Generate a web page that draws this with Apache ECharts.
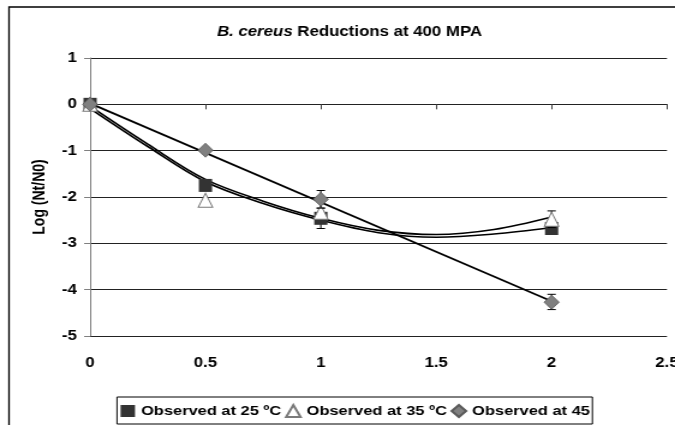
<!DOCTYPE html>
<html>
<head>
<meta charset="utf-8">
<script src="https://cdn.jsdelivr.net/npm/echarts@6/dist/echarts.min.js"></script>
<style>
  html, body { margin: 0; padding: 0; background: #fff; overflow: hidden; }
  #chart { width: 562px; height: 425px; transform: scaleX(1.2011); transform-origin: 0 0; }
</style>
</head>
<body>
<div id="chart"></div>
<script>
// Observation times (min) and log reductions for each temperature
const times = [0, 0.5, 1, 2];
const obs25 = [0, -1.75, -2.46, -2.68];
const obs35 = [0, -2.07, -2.33, -2.48];
const obs45 = [0, -0.99, -2.05, -4.27];

// Error bars: [time, lower, upper]
const err25 = [[1, -2.68, -2.24]];
const err35 = [[2, -2.66, -2.30]];
const err45 = [[1, -2.24, -1.86], [2, -4.43, -4.10]];

// Fitted trend curves
const fitTimes = [0, 0.25, 0.5, 0.75, 1, 1.25, 1.5, 1.75, 2];
const fit25 = [-0.09, -0.91, -1.67, -2.14, -2.50, -2.77, -2.87, -2.80, -2.66];
const fit35 = [-0.04, -0.86, -1.62, -2.09, -2.46, -2.72, -2.81, -2.70, -2.43];
const fit45Times = [0, 2];
const fit45 = [0.02, -4.25];

// Axis ticks
const xTicks = [0, 0.5, 1, 1.5, 2, 2.5];
const yTicks = [1, 0, -1, -2, -3, -4, -5];

const legendNames = ['Observed at 25 ºC', 'Observed at 35 ºC', 'Observed at 45'];

const FONT = "'Liberation Sans', Arial, sans-serif";
const zip = (xs, ys) => xs.map((x, i) => [x, ys[i]]);

function errorBar(params, api) {
  const x = api.value(0);
  const lo = api.coord([x, api.value(1)]);
  const hi = api.coord([x, api.value(2)]);
  const w = 3.5;
  const style = { stroke: '#000', lineWidth: 1 };
  return {
    type: 'group',
    children: [
      { type: 'line', shape: { x1: lo[0], y1: lo[1], x2: hi[0], y2: hi[1] }, style },
      { type: 'line', shape: { x1: lo[0] - w, y1: lo[1], x2: lo[0] + w, y2: lo[1] }, style },
      { type: 'line', shape: { x1: hi[0] - w, y1: hi[1], x2: hi[0] + w, y2: hi[1] }, style }
    ]
  };
}

const chart = echarts.init(document.getElementById('chart'), null, { renderer: 'canvas' });

chart.setOption({
  animation: false,
  backgroundColor: '#fff',
  textStyle: { fontFamily: FONT },
  title: {
    text: '{i|B. cereus} Reductions at 400 MPA',
    left: 291,
    top: 25,
    padding: 0,
    textAlign: 'center',
    textStyle: {
      fontFamily: FONT, fontSize: 14, fontWeight: 'bold', color: '#000',
      rich: { i: { fontFamily: FONT, fontSize: 14, fontWeight: 'bold', fontStyle: 'italic', color: '#000' } }
    }
  },
  graphic: [{
    type: 'rect',
    shape: { x: 7.5, y: 7, width: 700, height: 600 },
    style: { fill: 'none', stroke: '#000', lineWidth: 1.3 },
    silent: true
  }],
  legend: {
    data: [
      { name: legendNames[0], icon: 'rect' },
      { name: legendNames[1], icon: 'triangle' },
      { name: legendNames[2], icon: 'diamond' }
    ],
    left: 97.4,
    top: 397,
    padding: [7, 2, 6, 3],
    itemGap: 3,
    itemWidth: 12,
    itemHeight: 12,
    borderColor: '#000',
    borderWidth: 1,
    textStyle: { fontFamily: FONT, fontSize: 13.7, fontWeight: 'bold', color: '#000' }
  },
  grid: { left: 75, right: 6.7, top: 58, bottom: 89, containLabel: false, outerBoundsMode: 'none' },
  xAxis: {
    type: 'value',
    min: 0, max: 2.5, interval: 0.5,
    name: 'Time of treatment',
    nameLocation: 'middle',
    nameGap: 256,
    nameTextStyle: { fontFamily: FONT, fontSize: 14, fontWeight: 'bold', color: '#000' },
    axisLine: { onZero: true, lineStyle: { color: '#222', width: 1 } },
    axisTick: { show: true, length: 5, lineStyle: { color: '#444' } },
    axisLabel: {
      margin: 20, fontFamily: FONT, fontSize: 14, fontWeight: 'bold', color: '#000',
      formatter: v => xTicks.includes(v) ? String(v) : ''
    },
    splitLine: { show: false }
  },
  yAxis: {
    type: 'value',
    min: -5, max: 1, interval: 1,
    name: 'Log (Nt/N0)',
    nameLocation: 'middle',
    nameGap: 35,
    nameTextStyle: { fontFamily: FONT, fontSize: 14, fontWeight: 'bold', color: '#000' },
    axisLine: { show: true, onZero: false, lineStyle: { color: '#808080', width: 1 } },
    axisTick: { show: true, length: 5, lineStyle: { color: '#808080' } },
    axisLabel: {
      margin: 11, fontFamily: FONT, fontSize: 14, fontWeight: 'bold', color: '#000',
      formatter: v => yTicks.includes(v) ? String(v) : ''
    },
    splitLine: { show: true, lineStyle: { color: '#222', width: 1 } }
  },
  series: [
    {
      type: 'line', name: 'fit25', data: zip(fitTimes, fit25), smooth: 0.35,
      symbol: 'none', z: 2, lineStyle: { color: '#000', width: 1.6 }
    },
    {
      type: 'line', name: 'fit35', data: zip(fitTimes, fit35), smooth: 0.35,
      symbol: 'none', z: 2, lineStyle: { color: '#000', width: 1.6 }
    },
    {
      type: 'line', name: 'fit45', data: zip(fit45Times, fit45),
      symbol: 'none', z: 2, lineStyle: { color: '#000', width: 1.8 }
    },
    {
      type: 'custom', name: 'err25', data: err25, renderItem: errorBar,
      encode: { x: 0, y: [1, 2] }, z: 3
    },
    {
      type: 'scatter', name: legendNames[0], data: zip(times, obs25),
      symbol: 'rect', symbolSize: [11, 13], z: 4,
      itemStyle: { color: '#333333', opacity: 1 }
    },
    {
      type: 'custom', name: 'err35', data: err35, renderItem: errorBar,
      encode: { x: 0, y: [1, 2] }, z: 5
    },
    {
      type: 'scatter', name: legendNames[1], data: zip(times, obs35),
      symbol: 'triangle', symbolSize: [12, 14], z: 6,
      itemStyle: { color: '#ffffff', borderColor: '#7a7a7a', borderWidth: 1, opacity: 1 }
    },
    {
      type: 'custom', name: 'err45', data: err45, renderItem: errorBar,
      encode: { x: 0, y: [1, 2] }, z: 7
    },
    {
      type: 'scatter', name: legendNames[2], data: zip(times, obs45),
      symbol: 'diamond', symbolSize: [12.5, 14], z: 8,
      itemStyle: { color: '#808080', borderColor: '#5a5a5a', borderWidth: 0.8, opacity: 1 }
    }
  ]
});
</script>
</body>
</html>
